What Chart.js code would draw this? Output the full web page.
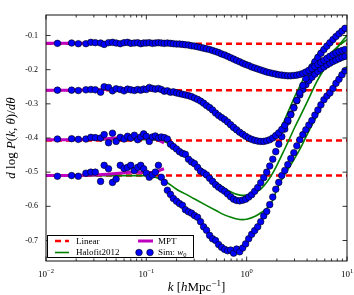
<!DOCTYPE html>
<html>
<head>
<meta charset="utf-8">
<script src="https://cdn.jsdelivr.net/npm/chart.js@4.4.0/dist/chart.umd.min.js"></script>
<style>
html, body { margin: 0; padding: 0; background: #fff; }
#wrap { width: 354px; height: 295px; }
</style>
</head>
<body>
<div id="wrap"><canvas id="responseChart" width="354" height="295"></canvas></div>
<script>
// k bins of the simulation measurement [h/Mpc]
const kSim = [0.013, 0.018, 0.021, 0.025, 0.028, 0.031, 0.035, 0.038, 0.042, 0.046, 0.05, 0.055, 0.06, 0.065, 0.07, 0.076, 0.082, 0.088, 0.094,
  0.1, 0.107, 0.115, 0.123, 0.132, 0.141, 0.151, 0.162, 0.174, 0.186,
  0.2, 0.214, 0.229, 0.245, 0.263, 0.282, 0.302, 0.324, 0.347, 0.372,
  0.398, 0.427, 0.457, 0.49, 0.525, 0.562, 0.603, 0.646, 0.692, 0.741,
  0.794, 0.851, 0.912, 0.977,
  1.047, 1.122, 1.202, 1.288, 1.38, 1.479, 1.585, 1.698, 1.82, 1.95,
  2.089, 2.239, 2.399, 2.57, 2.754, 2.951, 3.162, 3.388, 3.631, 3.89,
  4.169, 4.467, 4.786, 5.129, 5.495, 5.888, 6.31, 6.761, 7.244, 7.762,
  8.318, 8.913, 9.55];

const sim1 = [-0.123, -0.122, -0.124, -0.124, -0.120, -0.121, -0.122, -0.126, -0.121, -0.120, -0.122, -0.124, -0.121, -0.120, -0.123, -0.122, -0.121, -0.124, -0.122,
  -0.122, -0.121, -0.123, -0.122, -0.121, -0.122, -0.123, -0.122, -0.123, -0.124,
  -0.125, -0.125, -0.126, -0.127, -0.128, -0.130, -0.131, -0.133, -0.135, -0.137,
  -0.139, -0.141, -0.144, -0.147, -0.150, -0.154, -0.157, -0.161, -0.165, -0.169,
  -0.173, -0.177, -0.181, -0.185,
  -0.188, -0.192, -0.195, -0.198, -0.201, -0.204, -0.207, -0.209, -0.211, -0.213,
  -0.215, -0.216, -0.217, -0.218, -0.218, -0.217, -0.216, -0.214, -0.211, -0.207,
  -0.202, -0.197, -0.191, -0.185, -0.179, -0.173, -0.167, -0.161, -0.156, -0.151,
  -0.147, -0.144, -0.141];

const sim2 = [-0.260, -0.260, -0.261, -0.259, -0.258, -0.259, -0.266, -0.250, -0.252, -0.262, -0.256, -0.258, -0.262, -0.257, -0.259, -0.261, -0.258, -0.260, -0.257,
  -0.258, -0.252, -0.255, -0.257, -0.255, -0.258, -0.263, -0.262, -0.266, -0.265,
  -0.268, -0.270, -0.272, -0.274, -0.276, -0.279, -0.283, -0.287, -0.292, -0.298,
  -0.305, -0.311, -0.318, -0.327, -0.334, -0.340, -0.346, -0.353, -0.361, -0.369,
  -0.376, -0.383, -0.389, -0.395,
  -0.400, -0.404, -0.407, -0.409, -0.410, -0.410, -0.408, -0.405, -0.400, -0.393,
  -0.385, -0.375, -0.363, -0.348, -0.332, -0.312, -0.290, -0.268, -0.246, -0.226,
  -0.208, -0.192, -0.177, -0.164, -0.152, -0.141, -0.131, -0.121, -0.112, -0.103,
  -0.095, -0.087, -0.079];

const sim3 = [-0.403, -0.402, -0.404, -0.403, -0.398, -0.399, -0.400, -0.390, -0.414, -0.386, -0.410, -0.398, -0.403, -0.395, -0.400, -0.392, -0.405, -0.397, -0.388,
  -0.395, -0.410, -0.397, -0.394, -0.400, -0.397, -0.399, -0.403, -0.418, -0.425,
  -0.432, -0.440, -0.445, -0.448, -0.462, -0.470, -0.475, -0.486, -0.497, -0.502,
  -0.508, -0.518, -0.527, -0.537, -0.544, -0.550, -0.556, -0.564, -0.572, -0.579,
  -0.583, -0.584, -0.582, -0.579,
  -0.573, -0.566, -0.556, -0.545, -0.531, -0.516, -0.500, -0.482, -0.462, -0.440,
  -0.418, -0.396, -0.374, -0.352, -0.330, -0.310, -0.291, -0.274, -0.258, -0.244,
  -0.232, -0.222, -0.213, -0.205, -0.198, -0.192, -0.186, -0.181, -0.176, -0.172,
  -0.168, -0.164, -0.161];

const sim4 = [-0.512, -0.510, -0.512, -0.503, -0.500, -0.500, -0.527, -0.480, -0.490, -0.530, -0.520, -0.480, -0.489, -0.486, -0.480, -0.495, -0.486, -0.480, -0.490,
  -0.503, -0.515, -0.508, -0.500, -0.480, -0.515, -0.530, -0.553, -0.565, -0.577,
  -0.585, -0.592, -0.597, -0.610, -0.616, -0.620, -0.627, -0.632, -0.645, -0.660,
  -0.670, -0.685, -0.695, -0.700, -0.712, -0.720, -0.726, -0.730, -0.728, -0.737,
  -0.725, -0.733, -0.722, -0.710,
  -0.695, -0.682, -0.671, -0.660, -0.645, -0.628, -0.615, -0.595, -0.573, -0.550,
  -0.530, -0.510, -0.495, -0.478, -0.460, -0.443, -0.423, -0.405, -0.390, -0.376,
  -0.362, -0.349, -0.333, -0.318, -0.303, -0.288, -0.277, -0.268, -0.255, -0.240,
  -0.228, -0.215, -0.203];

// Halofit2012 curves
const kFit = [0.01, 0.02, 0.05, 0.1, 0.15, 0.2, 0.25, 0.3, 0.4, 0.5, 0.6, 0.7, 0.8, 0.9, 1.0, 1.2, 1.4, 1.6, 1.8, 2.0, 2.3, 2.6, 3.0, 3.5, 4.0, 5.0, 6.0, 7.0, 8.5, 10];
const halofit1 = [-0.123, -0.123, -0.123, -0.123, -0.124, -0.126, -0.129, -0.133, -0.141, -0.150, -0.159, -0.167, -0.175, -0.181, -0.187, -0.197, -0.205, -0.211, -0.216, -0.219, -0.222, -0.223, -0.222, -0.217, -0.208, -0.190, -0.170, -0.150, -0.127, -0.112];
const halofit2 = [-0.260, -0.260, -0.260, -0.260, -0.261, -0.265, -0.272, -0.281, -0.305, -0.330, -0.352, -0.372, -0.385, -0.395, -0.402, -0.411, -0.414, -0.411, -0.402, -0.388, -0.358, -0.322, -0.280, -0.240, -0.205, -0.158, -0.130, -0.112, -0.095, -0.085];
const halofit3 = [-0.405, -0.405, -0.405, -0.405, -0.410, -0.430, -0.450, -0.470, -0.505, -0.530, -0.547, -0.558, -0.565, -0.568, -0.567, -0.560, -0.548, -0.528, -0.505, -0.480, -0.443, -0.410, -0.370, -0.330, -0.295, -0.235, -0.195, -0.160, -0.125, -0.100];
const halofit4 = [-0.510, -0.510, -0.510, -0.510, -0.525, -0.550, -0.565, -0.578, -0.598, -0.613, -0.625, -0.632, -0.637, -0.639, -0.638, -0.630, -0.618, -0.605, -0.585, -0.550, -0.515, -0.490, -0.460, -0.425, -0.390, -0.335, -0.290, -0.255, -0.215, -0.190];

// MPT curves (low k only)
const kMpt = [0.01, 0.02, 0.03, 0.04, 0.05, 0.06, 0.07, 0.08, 0.09, 0.1, 0.11, 0.12, 0.13, 0.14, 0.15];
const mpt1 = [-0.123, -0.123, -0.123, -0.122, -0.122, -0.121, -0.121, -0.122, -0.122, -0.122, -0.122, -0.123, -0.123, -0.124, -0.124];
const mpt2 = [-0.260, -0.260, -0.259, -0.258, -0.257, -0.256, -0.256, -0.257, -0.258, -0.258, -0.259, -0.260, -0.261, -0.262, -0.263];
const mpt3 = [-0.405, -0.405, -0.404, -0.402, -0.400, -0.398, -0.397, -0.398, -0.400, -0.401, -0.402, -0.402, -0.405, -0.410, -0.414];
const mpt4 = [-0.510, -0.510, -0.508, -0.506, -0.504, -0.502, -0.500, -0.500, -0.501, -0.502, -0.501, -0.500, -0.498, -0.493, -0.490];

// linear theory: scale independent
const kLinear = [0.01, 10];
const linearLevels = [-0.124, -0.260, -0.407, -0.510];

const yTicks = [-0.1, -0.2, -0.3, -0.4, -0.5, -0.6, -0.7];
const yTickLabels = ['-0.1', '-0.2', '-0.3', '-0.4', '-0.5', '-0.6', '-0.7'];
const xTicks = [0.01, 0.1, 1, 10];
const xTickExps = ['\u22122', '\u22121', '0', '1'];

const SERIF = '"Liberation Serif", "DejaVu Serif", serif';

function pts(xs, ys) {
    return xs.map((x, i) => ({ x: x, y: ys[i] }));
}

const datasets = [];
[sim1, sim2, sim3, sim4].forEach(s => {
    datasets.push({
        data: pts(kSim, s), showLine: false, order: 0, clip: 0,
        pointRadius: 3.3, pointBackgroundColor: '#0000ff', pointBorderColor: '#000', pointBorderWidth: 0.6
    });
});
[mpt1, mpt2, mpt3, mpt4].forEach(s => {
    datasets.push({
        data: pts(kMpt, s), showLine: true, order: 1, clip: 0,
        pointRadius: 0, borderColor: '#bf00bf', borderWidth: 3
    });
});
[halofit1, halofit2, halofit3, halofit4].forEach(s => {
    datasets.push({
        data: pts(kFit, s), showLine: true, order: 2, clip: 0,
        pointRadius: 0, borderColor: '#008000', borderWidth: 1.6, cubicInterpolationMode: 'monotone'
    });
});
linearLevels.forEach(v => {
    datasets.push({
        data: pts(kLinear, [v, v]), showLine: true, order: 3, clip: 0,
        pointRadius: 0, borderColor: '#ff0000', borderWidth: 2.5, borderDash: [6, 4]
    });
});

// draw text made of runs (font, text, raise)
function drawRuns(ctx, runs, x, y, align) {
    let w = 0;
    runs.forEach(r => { ctx.font = r.f; r.w = ctx.measureText(r.t).width; w += r.w; });
    let cx = align === 'center' ? x - w / 2 : (align === 'right' ? x - w : x);
    runs.forEach(r => {
        ctx.font = r.f;
        ctx.fillText(r.t, cx, y - (r.up || 0));
        cx += r.w;
    });
}

const frame = {
    id: 'frame',
    afterDraw(chart) {
        const ctx = chart.ctx;
        const a = chart.chartArea;
        const sx = chart.scales.x, sy = chart.scales.y;
        ctx.save();
        ctx.strokeStyle = '#000';
        ctx.lineWidth = 0.8;
        ctx.beginPath();
        xTicks.forEach(k => {
            const px = sx.getPixelForValue(k);
            ctx.moveTo(px, a.bottom); ctx.lineTo(px, a.bottom - 4.5);
            ctx.moveTo(px, a.top); ctx.lineTo(px, a.top + 4.5);
        });
        for (let d = 0.01; d < 5; d *= 10) {
            for (let m = 2; m < 10; m++) {
                const px = sx.getPixelForValue(d * m);
                ctx.moveTo(px, a.bottom); ctx.lineTo(px, a.bottom - 2.5);
                ctx.moveTo(px, a.top); ctx.lineTo(px, a.top + 2.5);
            }
        }
        yTicks.forEach(v => {
            const py = sy.getPixelForValue(v);
            ctx.moveTo(a.left, py); ctx.lineTo(a.left + 4.5, py);
            ctx.moveTo(a.right, py); ctx.lineTo(a.right - 4.5, py);
        });
        ctx.stroke();
        ctx.lineWidth = 1;
        ctx.strokeStyle = '#111';
        ctx.strokeRect(a.left, a.top, a.right - a.left, a.bottom - a.top);

        // tick labels
        ctx.fillStyle = '#000';
        ctx.textBaseline = 'middle';
        ctx.textAlign = 'right';
        ctx.font = '8px ' + SERIF;
        yTicks.forEach((v, i) => {
            ctx.fillText(yTickLabels[i], a.left - 8, sy.getPixelForValue(v));
        });
        ctx.textAlign = 'left';
        ctx.textBaseline = 'alphabetic';
        xTicks.forEach((k, i) => {
            drawRuns(ctx, [
                { t: '10', f: '9px ' + SERIF },
                { t: xTickExps[i], f: '6.5px ' + SERIF, up: 4 }
            ], sx.getPixelForValue(k), 276.5, 'center');
        });

        // axis titles
        drawRuns(ctx, [
            { t: 'k', f: 'italic 13px ' + SERIF },
            { t: ' [', f: '13px ' + SERIF },
            { t: 'h', f: 'italic 13px ' + SERIF },
            { t: 'Mpc', f: '13px ' + SERIF },
            { t: '\u22121', f: '9px ' + SERIF, up: 5 },
            { t: ']', f: '13px ' + SERIF }
        ], (a.left + a.right) / 2, 291, 'center');

        ctx.save();
        ctx.translate(14.5, (a.top + a.bottom) / 2);
        ctx.rotate(-Math.PI / 2);
        drawRuns(ctx, [
            { t: 'd', f: 'italic 13px ' + SERIF },
            { t: ' log ', f: '13px ' + SERIF },
            { t: 'P', f: 'italic 13px ' + SERIF },
            { t: '(', f: '13px ' + SERIF },
            { t: 'k', f: 'italic 13px ' + SERIF },
            { t: ', ', f: '13px ' + SERIF },
            { t: '\u03b8', f: 'italic 13px ' + SERIF },
            { t: ')/', f: '13px ' + SERIF },
            { t: 'd\u03b8', f: 'italic 13px ' + SERIF }
        ], 0, 0, 'center');
        ctx.restore();

        // legend
        const lx = 47.5, ly = 235.5, lw = 146, lh = 22;
        ctx.fillStyle = '#fff';
        ctx.fillRect(lx, ly, lw, lh);
        ctx.strokeStyle = '#000';
        ctx.lineWidth = 1;
        ctx.strokeRect(lx, ly, lw, lh);
        const r1 = 241, r2 = 252.5;
        ctx.lineWidth = 2.5;
        ctx.strokeStyle = '#ff0000';
        ctx.setLineDash([6, 4]);
        ctx.beginPath(); ctx.moveTo(55, r1); ctx.lineTo(69, r1); ctx.stroke();
        ctx.setLineDash([]);
        ctx.strokeStyle = '#bf00bf';
        ctx.lineWidth = 3;
        ctx.beginPath(); ctx.moveTo(138, r1); ctx.lineTo(153, r1); ctx.stroke();
        ctx.strokeStyle = '#008000';
        ctx.lineWidth = 1.6;
        ctx.beginPath(); ctx.moveTo(55, r2); ctx.lineTo(69, r2); ctx.stroke();
        [139, 150].forEach(cx => {
            ctx.beginPath(); ctx.arc(cx, r2, 3.3, 0, Math.PI * 2);
            ctx.fillStyle = '#0000ff'; ctx.fill();
            ctx.lineWidth = 0.6; ctx.strokeStyle = '#000'; ctx.stroke();
        });
        ctx.fillStyle = '#000';
        ctx.textBaseline = 'middle';
        drawRuns(ctx, [{ t: 'Linear', f: '9px ' + SERIF }], 76, r1 + 0.5, 'left');
        drawRuns(ctx, [{ t: 'Halofit2012', f: '9px ' + SERIF }], 76, r2 + 0.5, 'left');
        drawRuns(ctx, [{ t: 'MPT', f: '9px ' + SERIF }], 158, r1 + 0.5, 'left');
        drawRuns(ctx, [
            { t: 'Sim: ', f: '9px ' + SERIF },
            { t: 'w', f: 'italic 9px ' + SERIF },
            { t: '0', f: '6.5px ' + SERIF, up: -2 }
        ], 158, r2 + 0.5, 'left');
        ctx.restore();
    }
};

new Chart(document.getElementById('responseChart'), {
    type: 'scatter',
    data: { datasets: datasets },
    options: {
        responsive: false,
        animation: false,
        devicePixelRatio: 1,
        layout: { padding: { top: 15, right: 7, left: 0, bottom: 0 } },
        scales: {
            x: {
                type: 'logarithmic', min: 0.01, max: 10,
                ticks: { display: false }, grid: { display: false }, border: { display: false },
                afterFit: s => { s.height = 34; }
            },
            y: {
                type: 'linear', min: -0.76, max: -0.04,
                ticks: { display: false }, grid: { display: false }, border: { display: false },
                afterFit: s => { s.width = 46; }
            }
        },
        plugins: { legend: { display: false }, tooltip: { enabled: false } }
    },
    plugins: [frame]
});
</script>
</body>
</html>
